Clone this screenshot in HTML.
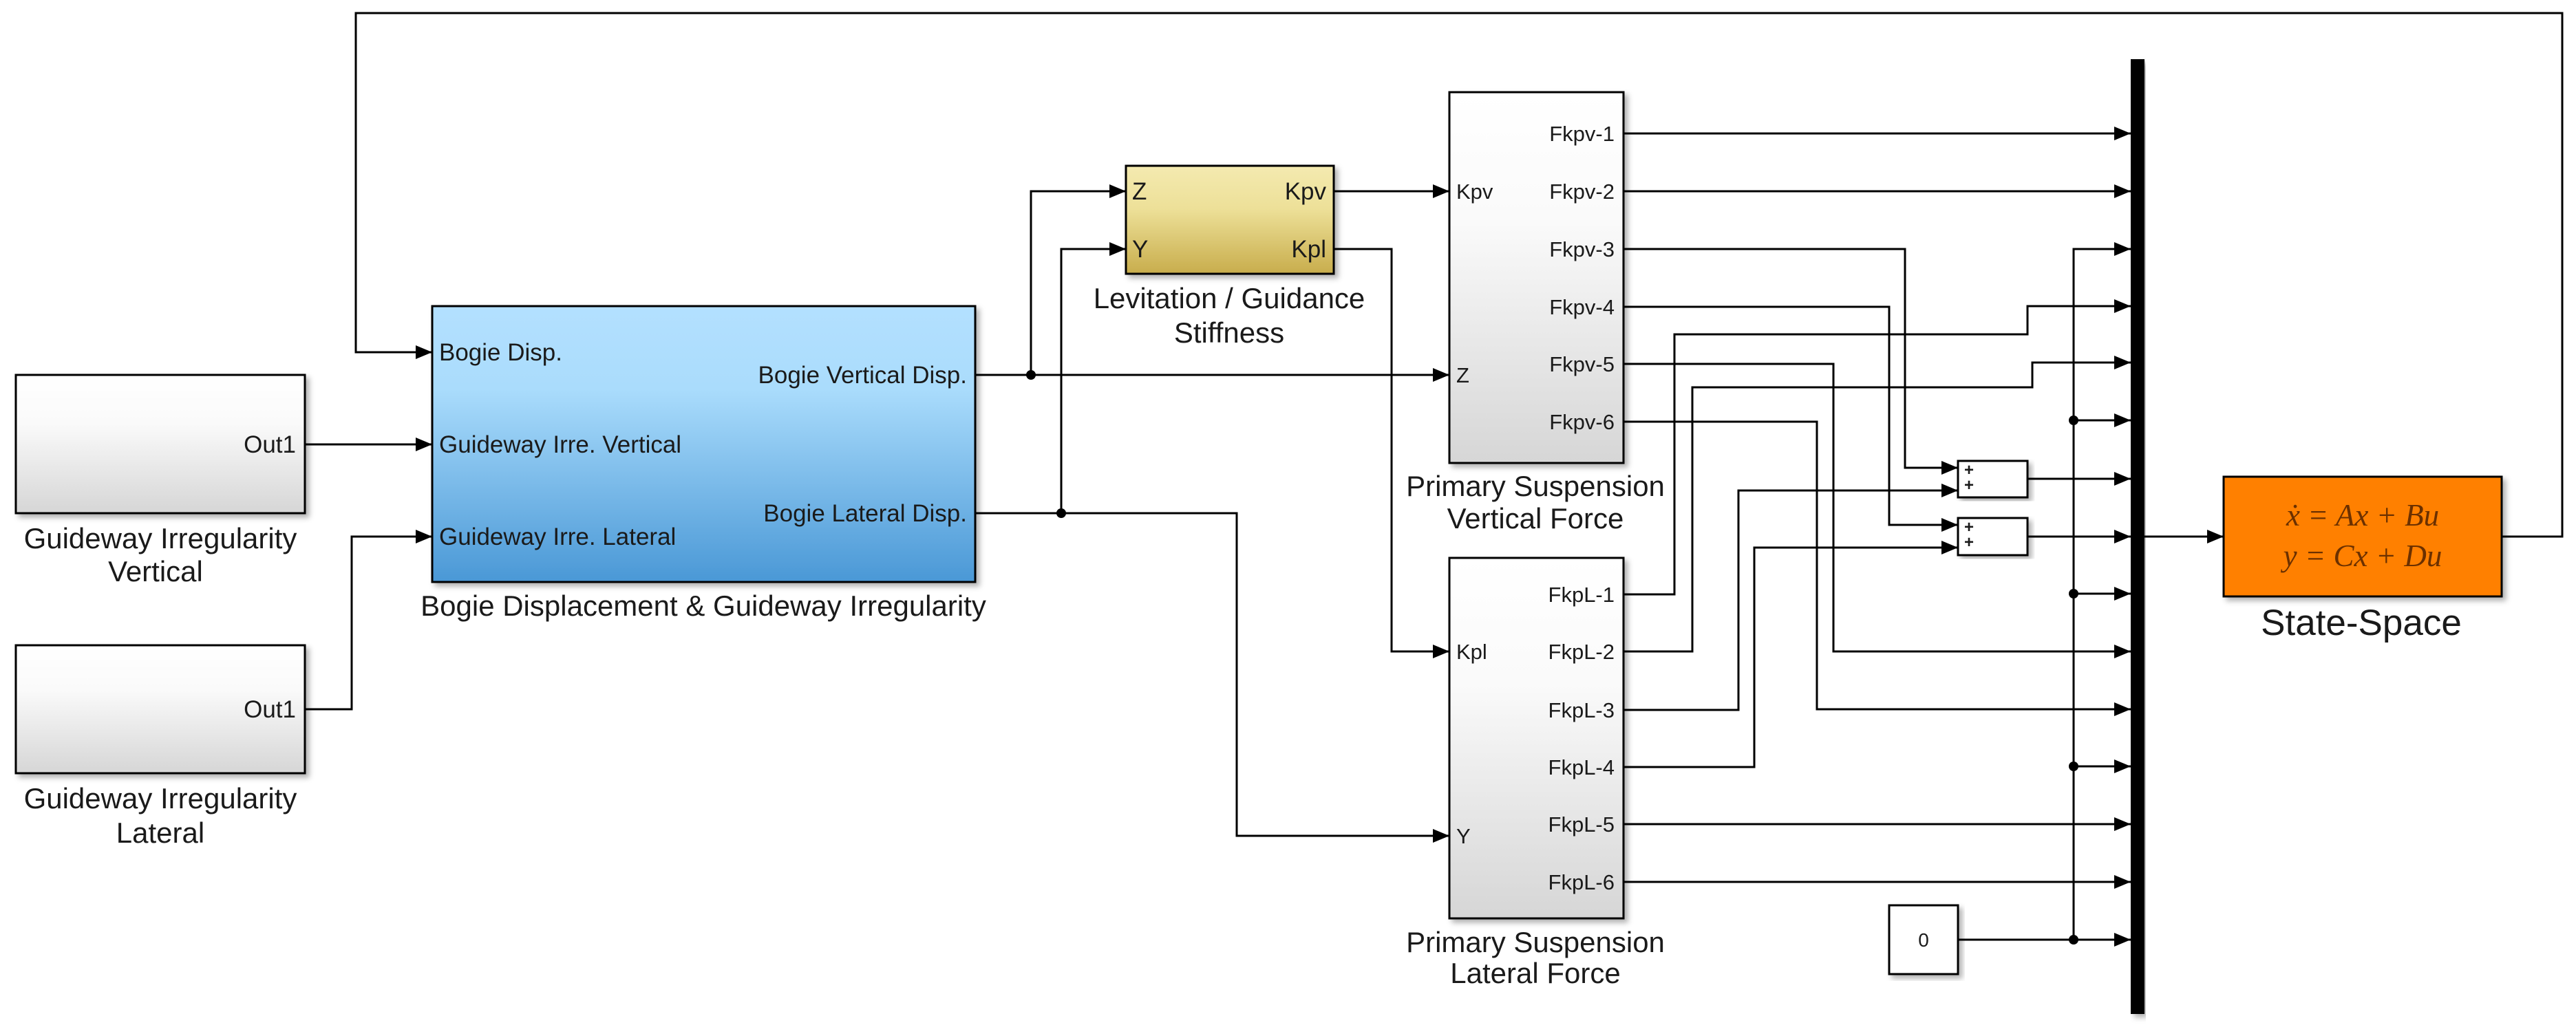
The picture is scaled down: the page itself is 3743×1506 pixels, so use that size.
<!DOCTYPE html>
<html><head><meta charset="utf-8"><style>
html,body{margin:0;padding:0;background:#fff;}
svg{display:block;}
text{font-family:"Liberation Sans",Arial,sans-serif;fill:#1a1a1a;}
</style></head><body>
<svg width="3743" height="1506" viewBox="0 0 3743 1506" xmlns="http://www.w3.org/2000/svg">
<defs>
<linearGradient id="gw" x1="0" y1="0" x2="0" y2="1"><stop offset="0" stop-color="#ffffff"/><stop offset="0.35" stop-color="#fafafa"/><stop offset="1" stop-color="#d6d6d6"/></linearGradient>
<linearGradient id="gb" x1="0" y1="0" x2="0" y2="1"><stop offset="0" stop-color="#b3e0ff"/><stop offset="0.3" stop-color="#aadcfc"/><stop offset="1" stop-color="#4a98d6"/></linearGradient>
<linearGradient id="gy" x1="0" y1="0" x2="0" y2="1"><stop offset="0" stop-color="#f4eab0"/><stop offset="0.4" stop-color="#ede098"/><stop offset="1" stop-color="#c8ad4c"/></linearGradient>
<filter id="sh" x="-5%" y="-5%" width="115%" height="115%"><feDropShadow dx="5" dy="5" stdDeviation="4" flood-color="#000" flood-opacity="0.3"/></filter>
<marker id="a" markerWidth="24" markerHeight="20" refX="24" refY="10" orient="auto" markerUnits="userSpaceOnUse"><path d="M0,0 L24,10 L0,20 z" fill="#000"/></marker>
</defs>

<rect x="23" y="545" width="420" height="201" fill="url(#gw)" stroke="#000" stroke-width="3" filter="url(#sh)"/>
<rect x="23" y="938" width="420" height="186" fill="url(#gw)" stroke="#000" stroke-width="3" filter="url(#sh)"/>
<rect x="628" y="445" width="789" height="401" fill="url(#gb)" stroke="#000" stroke-width="3" filter="url(#sh)"/>
<rect x="1636" y="241" width="302" height="157" fill="url(#gy)" stroke="#000" stroke-width="3" filter="url(#sh)"/>
<rect x="2106" y="134" width="253" height="539" fill="url(#gw)" stroke="#000" stroke-width="3" filter="url(#sh)"/>
<rect x="2106" y="811" width="253" height="524" fill="url(#gw)" stroke="#000" stroke-width="3" filter="url(#sh)"/>
<rect x="2845" y="670" width="101" height="53" fill="#fff" stroke="#000" stroke-width="3" filter="url(#sh)"/>
<rect x="2845" y="753" width="101" height="54" fill="#fff" stroke="#000" stroke-width="3" filter="url(#sh)"/>
<rect x="2745" y="1316" width="100" height="100" fill="#fff" stroke="#000" stroke-width="3" filter="url(#sh)"/>
<rect x="3096" y="86" width="20" height="1388" fill="#000" filter="url(#sh)"/>
<rect x="3231" y="693" width="404" height="174" fill="#ff8000" stroke="#000" stroke-width="3" filter="url(#sh)"/>

<g fill="none" stroke="#000" stroke-width="3">
<path d="M443,646 H628" marker-end="url(#a)"/>
<path d="M443,1031 H511 V780 H628" marker-end="url(#a)"/>
<path d="M3635,780 H3723 V19 H517 V512 H628" marker-end="url(#a)"/>
<path d="M1417,545 H2106" marker-end="url(#a)"/>
<path d="M1498,545 V278 H1636" marker-end="url(#a)"/>
<path d="M1417,746 H1797 V1215 H2106" marker-end="url(#a)"/>
<path d="M1542,746 V362 H1636" marker-end="url(#a)"/>
<path d="M1938,278 H2106" marker-end="url(#a)"/>
<path d="M1938,362 H2022 V947 H2106" marker-end="url(#a)"/>
<path d="M2359,194 H3096" marker-end="url(#a)"/>
<path d="M2359,278 H3096" marker-end="url(#a)"/>
<path d="M2359,362 H2768 V680 H2845" marker-end="url(#a)"/>
<path d="M2359,446 H2745 V763 H2845" marker-end="url(#a)"/>
<path d="M2359,529 H2664 V947 H3096" marker-end="url(#a)"/>
<path d="M2359,613 H2640 V1031 H3096" marker-end="url(#a)"/>
<path d="M2359,864 H2433 V486 H2946 V445 H3096" marker-end="url(#a)"/>
<path d="M2359,947 H2459 V563 H2953 V527 H3096" marker-end="url(#a)"/>
<path d="M2359,1032 H2526 V713 H2845" marker-end="url(#a)"/>
<path d="M2359,1115 H2549 V796 H2845" marker-end="url(#a)"/>
<path d="M2359,1198 H3096" marker-end="url(#a)"/>
<path d="M2359,1282 H3096" marker-end="url(#a)"/>
<path d="M2946,696 H3096" marker-end="url(#a)"/>
<path d="M2946,780 H3096" marker-end="url(#a)"/>
<path d="M2845,1366 H3096" marker-end="url(#a)"/>
<path d="M3013,1366 V362 H3096" marker-end="url(#a)"/>
<path d="M3013,611 H3096" marker-end="url(#a)"/>
<path d="M3013,863 H3096" marker-end="url(#a)"/>
<path d="M3013,1114 H3096" marker-end="url(#a)"/>
<path d="M3116,780 H3231" marker-end="url(#a)"/>
</g>
<g fill="#000">
<circle cx="1498" cy="545" r="7"/><circle cx="1542" cy="746" r="7"/>
<circle cx="3013" cy="611" r="7"/><circle cx="3013" cy="863" r="7"/><circle cx="3013" cy="1114" r="7"/><circle cx="3013" cy="1366" r="7"/>
</g>

<g font-size="35">
<text x="430" y="658" text-anchor="end">Out1</text>
<text x="430" y="1043" text-anchor="end">Out1</text>
<text x="638" y="524">Bogie Disp.</text>
<text x="638" y="658">Guideway Irre. Vertical</text>
<text x="638" y="792">Guideway Irre. Lateral</text>
<text x="1405" y="557" text-anchor="end">Bogie Vertical Disp.</text>
<text x="1405" y="758" text-anchor="end">Bogie Lateral Disp.</text>
<text x="1645" y="290">Z</text>
<text x="1645" y="374">Y</text>
<text x="1927" y="290" text-anchor="end">Kpv</text>
<text x="1927" y="374" text-anchor="end">Kpl</text>
</g>
<g font-size="31">
<text x="2116" y="289">Kpv</text>
<text x="2116" y="556">Z</text>
<text x="2116" y="958">Kpl</text>
<text x="2116" y="1226">Y</text>
<g text-anchor="end">
<text x="2346" y="205">Fkpv-1</text><text x="2346" y="289">Fkpv-2</text><text x="2346" y="373">Fkpv-3</text>
<text x="2346" y="457">Fkpv-4</text><text x="2346" y="540">Fkpv-5</text><text x="2346" y="624">Fkpv-6</text>
<text x="2346" y="875">FkpL-1</text><text x="2346" y="958">FkpL-2</text><text x="2346" y="1043">FkpL-3</text>
<text x="2346" y="1126">FkpL-4</text><text x="2346" y="1209">FkpL-5</text><text x="2346" y="1293">FkpL-6</text>
</g>
<text x="2795" y="1376" text-anchor="middle" font-size="28">0</text>
</g>
<g font-size="24" font-weight="bold">
<text x="2854" y="691">+</text><text x="2854" y="713">+</text>
<text x="2854" y="774">+</text><text x="2854" y="796">+</text>
</g>
<g font-style="italic" font-size="45" text-anchor="middle">
<text x="3433" y="764" style="font-family:'Liberation Serif',serif;fill:#6b3000">ẋ = Ax + Bu</text>
<text x="3433" y="823" style="font-family:'Liberation Serif',serif;fill:#6b3000">y = Cx + Du</text>
</g>

<g font-size="42" text-anchor="middle">
<text x="233" y="797">Guideway Irregularity</text>
<text x="226" y="845">Vertical</text>
<text x="233" y="1175">Guideway Irregularity</text>
<text x="233" y="1225">Lateral</text>
<text x="1022" y="895">Bogie Displacement &amp; Guideway Irregularity</text>
<text x="1786" y="448">Levitation / Guidance</text>
<text x="1786" y="498">Stiffness</text>
<text x="2231" y="721">Primary Suspension</text>
<text x="2231" y="768">Vertical Force</text>
<text x="2231" y="1384">Primary Suspension</text>
<text x="2231" y="1429">Lateral Force</text>
<text x="3431" y="923" font-size="53">State-Space</text>
</g>
</svg>
</body></html>
